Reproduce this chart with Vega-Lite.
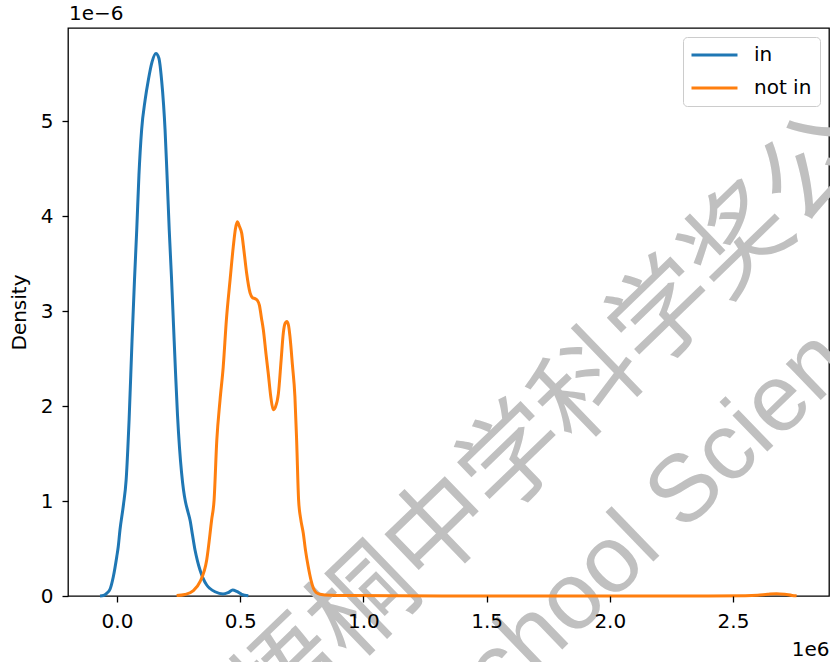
{
  "$schema": "https://vega.github.io/schema/vega-lite/v6.json",
  "width": 761,
  "height": 568,
  "autosize": {"type": "none"},
  "padding": {"left": 68, "top": 28, "right": 1, "bottom": 66},
  "background": "white",
  "config": {
    "view": {"stroke": "#000", "strokeWidth": 1.3},
    "font": "DejaVu Sans"
  },
  "datasets": {
    "curves": [
      {"x": -69000, "density": 0, "group": "in"},
      {"x": -55000, "density": 5e-9, "group": "in"},
      {"x": -42000, "density": 2.8e-8, "group": "in"},
      {"x": -28000, "density": 7.4e-8, "group": "in"},
      {"x": -15000, "density": 2.03e-7, "group": "in"},
      {"x": -1000, "density": 4.14e-7, "group": "in"},
      {"x": 5000, "density": 5.19e-7, "group": "in"},
      {"x": 12000, "density": 6.95e-7, "group": "in"},
      {"x": 26000, "density": 9.58e-7, "group": "in"},
      {"x": 37000, "density": 1.22e-6, "group": "in"},
      {"x": 49000, "density": 1.85e-6, "group": "in"},
      {"x": 61000, "density": 2.69e-6, "group": "in"},
      {"x": 71000, "density": 3.33e-6, "group": "in"},
      {"x": 80000, "density": 3.85e-6, "group": "in"},
      {"x": 89000, "density": 4.43e-6, "group": "in"},
      {"x": 100000, "density": 4.91e-6, "group": "in"},
      {"x": 114000, "density": 5.22e-6, "group": "in"},
      {"x": 127000, "density": 5.43e-6, "group": "in"},
      {"x": 142000, "density": 5.62e-6, "group": "in"},
      {"x": 158000, "density": 5.71e-6, "group": "in"},
      {"x": 170000, "density": 5.66e-6, "group": "in"},
      {"x": 181000, "density": 5.43e-6, "group": "in"},
      {"x": 189000, "density": 5.17e-6, "group": "in"},
      {"x": 195000, "density": 4.91e-6, "group": "in"},
      {"x": 203000, "density": 4.43e-6, "group": "in"},
      {"x": 212000, "density": 3.85e-6, "group": "in"},
      {"x": 221200, "density": 3.347e-6, "group": "in"},
      {"x": 229300, "density": 2.853e-6, "group": "in"},
      {"x": 237400, "density": 2.358e-6, "group": "in"},
      {"x": 245500, "density": 1.905e-6, "group": "in"},
      {"x": 253700, "density": 1.558e-6, "group": "in"},
      {"x": 261800, "density": 1.305e-6, "group": "in"},
      {"x": 269900, "density": 1.116e-6, "group": "in"},
      {"x": 278000, "density": 9.89e-7, "group": "in"},
      {"x": 288100, "density": 8.84e-7, "group": "in"},
      {"x": 296300, "density": 8.0e-7, "group": "in"},
      {"x": 306400, "density": 6.42e-7, "group": "in"},
      {"x": 316600, "density": 4.84e-7, "group": "in"},
      {"x": 326700, "density": 3.68e-7, "group": "in"},
      {"x": 336900, "density": 2.74e-7, "group": "in"},
      {"x": 349000, "density": 1.89e-7, "group": "in"},
      {"x": 364000, "density": 1.16e-7, "group": "in"},
      {"x": 377400, "density": 7.9e-8, "group": "in"},
      {"x": 397700, "density": 4.5e-8, "group": "in"},
      {"x": 430200, "density": 2.1e-8, "group": "in"},
      {"x": 450500, "density": 3.5e-8, "group": "in"},
      {"x": 469600, "density": 6.3e-8, "group": "in"},
      {"x": 485800, "density": 4.9e-8, "group": "in"},
      {"x": 506100, "density": 1.8e-8, "group": "in"},
      {"x": 532900, "density": 3e-9, "group": "in"},
      {"x": 242000, "density": 5e-9, "group": "not in"},
      {"x": 276000, "density": 1.6e-8, "group": "not in"},
      {"x": 310000, "density": 5.6e-8, "group": "not in"},
      {"x": 337000, "density": 1.51e-7, "group": "not in"},
      {"x": 364000, "density": 3.79e-7, "group": "not in"},
      {"x": 384000, "density": 8.0e-7, "group": "not in"},
      {"x": 394000, "density": 1.01e-6, "group": "not in"},
      {"x": 405000, "density": 1.64e-6, "group": "not in"},
      {"x": 418000, "density": 2.06e-6, "group": "not in"},
      {"x": 431000, "density": 2.41e-6, "group": "not in"},
      {"x": 444000, "density": 2.91e-6, "group": "not in"},
      {"x": 459000, "density": 3.33e-6, "group": "not in"},
      {"x": 472000, "density": 3.68e-6, "group": "not in"},
      {"x": 481000, "density": 3.87e-6, "group": "not in"},
      {"x": 488000, "density": 3.94e-6, "group": "not in"},
      {"x": 497000, "density": 3.89e-6, "group": "not in"},
      {"x": 506000, "density": 3.82e-6, "group": "not in"},
      {"x": 515000, "density": 3.64e-6, "group": "not in"},
      {"x": 526000, "density": 3.40e-6, "group": "not in"},
      {"x": 540000, "density": 3.19e-6, "group": "not in"},
      {"x": 550000, "density": 3.14e-6, "group": "not in"},
      {"x": 560000, "density": 3.13e-6, "group": "not in"},
      {"x": 570000, "density": 3.11e-6, "group": "not in"},
      {"x": 578000, "density": 3.06e-6, "group": "not in"},
      {"x": 586000, "density": 2.93e-6, "group": "not in"},
      {"x": 594000, "density": 2.80e-6, "group": "not in"},
      {"x": 605000, "density": 2.54e-6, "group": "not in"},
      {"x": 614000, "density": 2.34e-6, "group": "not in"},
      {"x": 625000, "density": 2.08e-6, "group": "not in"},
      {"x": 634000, "density": 1.96e-6, "group": "not in"},
      {"x": 643000, "density": 1.99e-6, "group": "not in"},
      {"x": 655000, "density": 2.13e-6, "group": "not in"},
      {"x": 666000, "density": 2.48e-6, "group": "not in"},
      {"x": 675000, "density": 2.77e-6, "group": "not in"},
      {"x": 682000, "density": 2.87e-6, "group": "not in"},
      {"x": 689000, "density": 2.89e-6, "group": "not in"},
      {"x": 696000, "density": 2.85e-6, "group": "not in"},
      {"x": 702000, "density": 2.73e-6, "group": "not in"},
      {"x": 712000, "density": 2.43e-6, "group": "not in"},
      {"x": 722000, "density": 2.10e-6, "group": "not in"},
      {"x": 729000, "density": 1.64e-6, "group": "not in"},
      {"x": 737000, "density": 1.01e-6, "group": "not in"},
      {"x": 745000, "density": 8.2e-7, "group": "not in"},
      {"x": 756000, "density": 6.6e-7, "group": "not in"},
      {"x": 765000, "density": 4.8e-7, "group": "not in"},
      {"x": 776000, "density": 3.1e-7, "group": "not in"},
      {"x": 787000, "density": 1.7e-7, "group": "not in"},
      {"x": 797000, "density": 8.1e-8, "group": "not in"},
      {"x": 808000, "density": 3.7e-8, "group": "not in"},
      {"x": 824000, "density": 1.8e-8, "group": "not in"},
      {"x": 864000, "density": 7e-9, "group": "not in"},
      {"x": 946000, "density": 4e-9, "group": "not in"},
      {"x": 1149000, "density": 2e-9, "group": "not in"},
      {"x": 1500000, "density": 1e-9, "group": "not in"},
      {"x": 2000000, "density": 1e-9, "group": "not in"},
      {"x": 2400000, "density": 1e-9, "group": "not in"},
      {"x": 2550000, "density": 3e-9, "group": "not in"},
      {"x": 2600000, "density": 8e-9, "group": "not in"},
      {"x": 2640000, "density": 1.8e-8, "group": "not in"},
      {"x": 2677000, "density": 2.5e-8, "group": "not in"},
      {"x": 2710000, "density": 1.8e-8, "group": "not in"},
      {"x": 2740000, "density": 6e-9, "group": "not in"},
      {"x": 2758000, "density": 2e-9, "group": "not in"}
    ]
  },
  "layer": [
    {
      "data": {"values": [{"x": 1769600, "y": 1.811e-6, "label": "梧桐中学科学奖公"}]},
      "mark": {"type": "text", "font": "Noto Sans CJK SC", "fontSize": 104, "angle": -44, "align": "center", "baseline": "middle", "color": "#c0c0c0"},
      "encoding": {
        "x": {"field": "x", "type": "quantitative", "scale": {"domain": [-198900, 2889600], "nice": false, "zero": false}},
        "y": {"field": "y", "type": "quantitative", "scale": {"domain": [0, 5.979e-6], "nice": false, "zero": false}},
        "text": {"field": "label"}
      }
    },
    {
      "data": {"values": [{"x": 1371800, "y": -1.653e-6, "label": "School Science"}]},
      "mark": {"type": "text", "font": "Liberation Sans", "fontSize": 95, "angle": -44, "align": "left", "baseline": "alphabetic", "color": "#c0c0c0"},
      "encoding": {
        "x": {"field": "x", "type": "quantitative", "scale": {"domain": [-198900, 2889600], "nice": false, "zero": false}},
        "y": {"field": "y", "type": "quantitative", "scale": {"domain": [0, 5.979e-6], "nice": false, "zero": false}},
        "text": {"field": "label"}
      }
    },
    {
      "data": {"values": [{"x": -198900, "y": 5.979e-6, "label": "1e−6"}]},
      "mark": {"type": "text", "font": "DejaVu Sans", "fontSize": 20, "align": "left", "baseline": "alphabetic", "dx": 1, "dy": -8, "color": "#000"},
      "encoding": {
        "x": {"field": "x", "type": "quantitative", "scale": {"domain": [-198900, 2889600], "nice": false, "zero": false}},
        "y": {"field": "y", "type": "quantitative", "scale": {"domain": [0, 5.979e-6], "nice": false, "zero": false}},
        "text": {"field": "label"}
      }
    },
    {
      "data": {"name": "curves"},
      "mark": {"type": "line", "strokeWidth": 3, "interpolate": "monotone"},
      "encoding": {
        "x": {
          "field": "x", "type": "quantitative",
          "scale": {"domain": [-198900, 2889600], "nice": false, "zero": false},
          "axis": {
            "title": "1e6",
            "values": [0, 500000, 1000000, 1500000, 2000000, 2500000],
            "labelExpr": "format(datum.value / 1000000, '.1f')",
            "grid": false, "domain": false,
            "tickSize": 6, "tickColor": "#000", "tickWidth": 1.3,
            "labelFont": "DejaVu Sans", "labelFontSize": 20, "labelColor": "#000", "labelPadding": 9,
            "titleFont": "DejaVu Sans", "titleFontSize": 20, "titleFontWeight": "normal", "titleColor": "#000",
            "titleAlign": "right", "titleBaseline": "alphabetic", "titleX": 761, "titleY": 59,
            "zindex": 1
          }
        },
        "y": {
          "field": "density", "type": "quantitative",
          "scale": {"domain": [0, 5.979e-6], "nice": false, "zero": false},
          "axis": {
            "title": "Density",
            "values": [0, 1e-6, 2e-6, 3e-6, 4e-6, 5e-6],
            "labelExpr": "format(datum.value * 1000000, '.0f')",
            "grid": false, "domain": false,
            "tickSize": 6, "tickColor": "#000", "tickWidth": 1.3,
            "labelFont": "DejaVu Sans", "labelFontSize": 20, "labelColor": "#000", "labelPadding": 9,
            "titleFont": "DejaVu Sans", "titleFontSize": 20, "titleFontWeight": "normal", "titleColor": "#000",
            "titleBaseline": "alphabetic", "titleX": -43,
            "zindex": 1
          }
        },
        "color": {
          "field": "group", "type": "nominal",
          "scale": {"domain": ["in", "not in"], "range": ["#1f77b4", "#ff7f0e"]},
          "legend": {
            "title": null, "orient": "top-right", "offset": 9,
            "symbolType": "M-1.24,0H4.76", "symbolSize": 235, "symbolStrokeWidth": 3,
            "labelFont": "DejaVu Sans", "labelFontSize": 20, "labelColor": "#000",
            "labelOffset": 43, "rowPadding": 13, "padding": 8,
            "strokeColor": "#cccccc", "fillColor": "rgba(255,255,255,0.8)", "cornerRadius": 4
          }
        }
      }
    }
  ]
}
